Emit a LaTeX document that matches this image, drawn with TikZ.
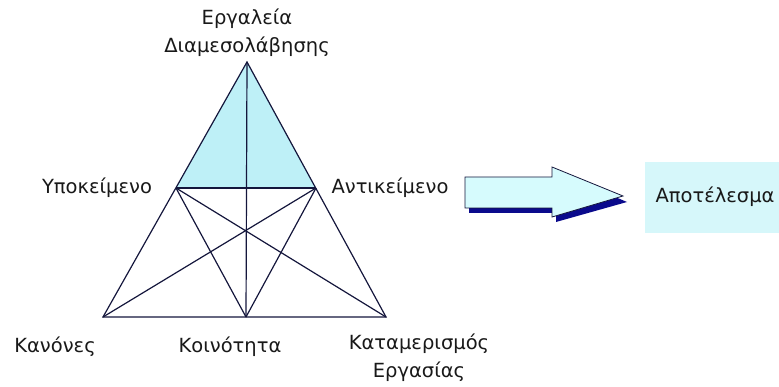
\documentclass[tikz,border=0pt]{standalone}
\usepackage{fontspec}
\setmainfont{DejaVu Sans}
\usetikzlibrary{positioning}
\definecolor{topfill}{RGB}{190, 240, 247}
\definecolor{arrowfill}{RGB}{214, 251, 253}
\definecolor{resfill}{RGB}{214, 247, 250}
\definecolor{lineblue}{RGB}{20, 22, 60}
\definecolor{shadowblue}{RGB}{10, 10, 140}

\begin{document}
\begin{tikzpicture}[x=1pt, y=-1pt, font=\fontsize{19.5}{28}\selectfont]
  \useasboundingbox (0,0) rectangle (779,387);
  \tikzset{
    edge/.style={lineblue, line width=1.2pt},
    lbl/.style={inner sep=0pt, text=black!90, align=center}
  }
  % Corners of the activity triangle
  \coordinate (tool) at (247, 62);
  \coordinate (subj) at (176, 188);
  \coordinate (obj)  at (316, 188);
  \coordinate (rules) at (103, 317);
  \coordinate (comm)  at (246, 317);
  \coordinate (div)   at (386, 317);

  \fill[topfill] (tool) -- (subj) -- (obj) -- cycle;

  \draw[edge] (tool) -- (rules) -- (div) -- cycle;
  \draw[edge] (subj) -- (obj);
  \draw[edge] (tool) -- (comm);
  \draw[edge] (subj) -- (comm);
  \draw[edge] (subj) -- (div);
  \draw[edge] (obj) -- (comm);
  \draw[edge] (obj) -- (rules);

  % Labels
  \node[lbl] (toollbl) at (247, 33) {Εργαλεία\\Διαμεσολάβησης};
  \node[lbl] (subjlbl) at (97, 188) {Υποκείμενο};
  \node[lbl] (objlbl)  at (390, 188) {Αντικείμενο};
  \node[lbl] (ruleslbl) at (55, 347) {Κανόνες};
  \node[lbl] (commlbl)  at (230, 347) {Κοινότητα};
  \node[lbl] (divlbl)   at (419, 358) {Καταμερισμός\\Εργασίας};

  % Block arrow with shadow
  \fill[shadowblue] (469,182) -- (556,182) -- (556,172) -- (627,202)
    -- (556,222) -- (556,213) -- (469,213) -- cycle;
  \draw[lineblue, line width=0.8pt, fill=arrowfill] (465,177) -- (552,177)
    -- (552,167) -- (623,196) -- (552,217) -- (552,208) -- (465,208) -- cycle;

  % Result
  \fill[resfill] (645,162) rectangle (779,233);
  \node[lbl] (result) at (715,197) {Αποτέλεσμα};
\end{tikzpicture}
\end{document}
